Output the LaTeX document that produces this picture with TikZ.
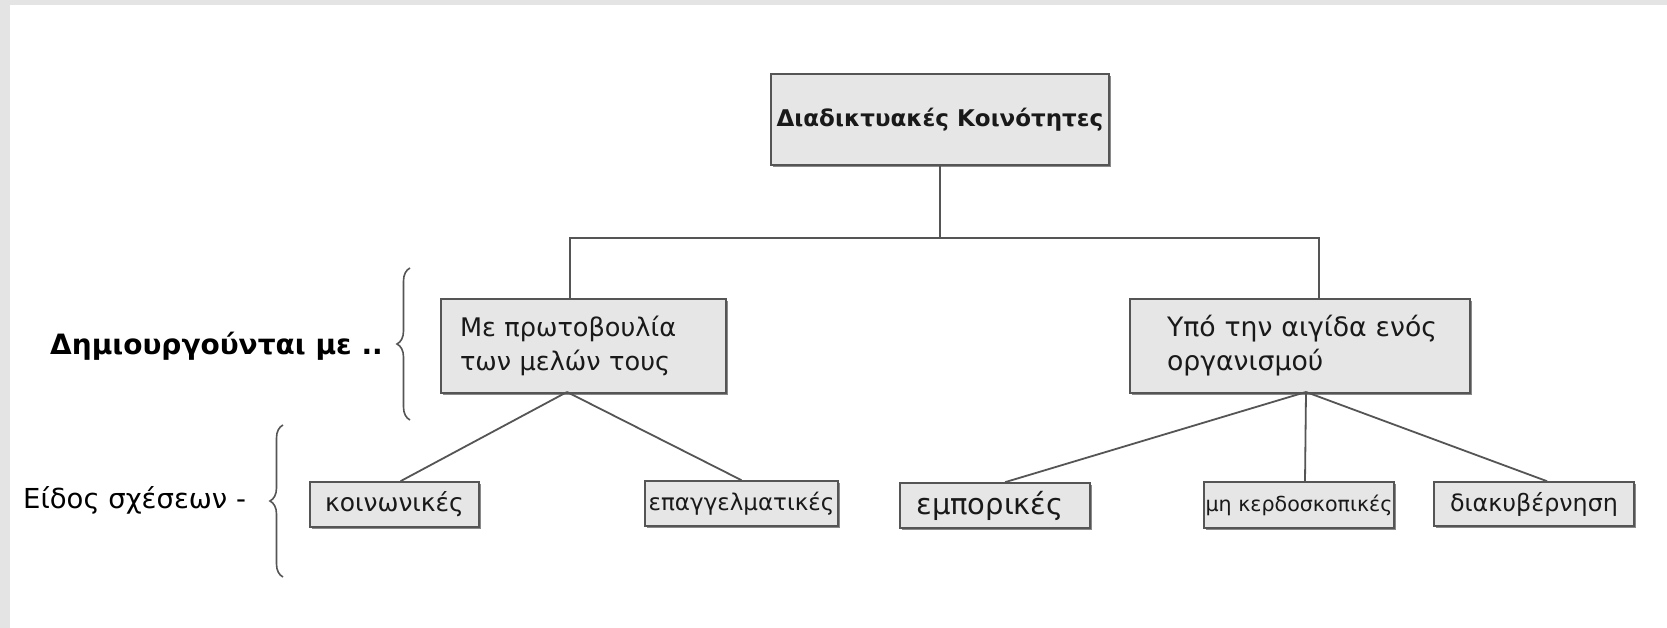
\documentclass[tikz,border=0pt]{standalone}
\usepackage{fontspec}
\setmainfont{DejaVu Sans}
\usetikzlibrary{decorations.pathreplacing,calc,shadows}
\definecolor{frame}{HTML}{E4E4E4}
\definecolor{boxfill}{HTML}{E6E6E6}
\definecolor{edge}{HTML}{555555}
\definecolor{shade}{HTML}{8A8A8A}
\begin{document}
\begin{tikzpicture}[x=1pt,y=-1pt,
  box/.style={draw=edge, fill=boxfill, line width=1.6pt, inner sep=0pt, text=black!90,
    drop shadow={shadow xshift=1.5pt, shadow yshift=-2pt, fill=shade, opacity=1}},
  conn/.style={draw=edge, line width=1.8pt},
  brc/.style={draw=edge, line width=1.6pt, decorate, decoration={brace, amplitude=13pt, aspect=0.5}}]
\useasboundingbox (0,0) rectangle (1667,628);
\fill[frame] (0,0) rectangle (1667,628);
\fill[white] (10,5) rectangle (1667,628);

% boxes
\node[box, minimum width=338pt, minimum height=91pt, font=\fontsize{23}{27}\selectfont\bfseries] (top) at (940,119.5) {Διαδικτυακές Κοινότητες};
\node[box, minimum width=285pt, minimum height=94pt, text width=247pt, align=left, font=\fontsize{25.6}{34}\selectfont] (lm) at (583.5,346) {Με πρωτοβουλία\\των μελών τους};
\node[box, minimum width=340pt, minimum height=94pt, text width=300pt, align=left, font=\fontsize{26.7}{34}\selectfont] (rm) at (1300,346) {\hspace*{17pt}Υπό την αιγίδα ενός\\\hspace*{17pt}οργανισμού};

\node[box, minimum width=169pt, minimum height=45pt, font=\fontsize{25}{28}\selectfont] (k) at (394.5,504.5) {κοινωνικές};
\node[box, minimum width=193pt, minimum height=45pt, font=\fontsize{23}{26}\selectfont] (e) at (741.5,503.5) {επαγγελματικές};
\node[box, minimum width=190pt, minimum height=45pt, font=\fontsize{29}{32}\selectfont] (em) at (995,505.5) {\hspace*{-10pt}εμπορικές};
\node[box, minimum width=190pt, minimum height=46pt, font=\fontsize{20.6}{23}\selectfont] (mk) at (1299,505) {μη κερδοσκοπικές};
\node[box, minimum width=200pt, minimum height=44pt, font=\fontsize{23.8}{26}\selectfont] (d) at (1534,504) {διακυβέρνηση};

% connectors
\coordinate (bl) at (570,238);
\coordinate (br) at (1319,238);
\draw[conn] (top.south) -- (top.south |- bl);
\draw[conn] (lm.north -| bl) -- (bl) -- (br) -- (rm.north -| br);
\coordinate (la) at (567,392);
\coordinate (ra) at (1306,392);
\draw[conn] (la) -- ($(k.north)+(6,0)$);
\draw[conn] (la) -- (e.north);
\draw[conn] (ra) -- ($(em.north)+(10,0)$);
\draw[conn] (ra) -- ($(mk.north)+(6,0)$);
\draw[conn] (ra) -- ($(d.north)+(13,0)$);

% braces and labels
\coordinate (b1a) at (410,420);
\coordinate (b1b) at (410,268);
\draw[brc] (b1a) -- (b1b);
\coordinate (b2a) at (283,577);
\coordinate (b2b) at (283,425);
\draw[brc] (b2a) -- (b2b);
\node[anchor=west, inner sep=0pt, font=\fontsize{28}{31}\selectfont\bfseries] (l1) at (50,346) {Δημιουργούνται με ..};
\node[anchor=west, inner sep=0pt, font=\fontsize{27.5}{31}\selectfont] (l2) at (23,500) {Είδος σχέσεων -};
\end{tikzpicture}
\end{document}
